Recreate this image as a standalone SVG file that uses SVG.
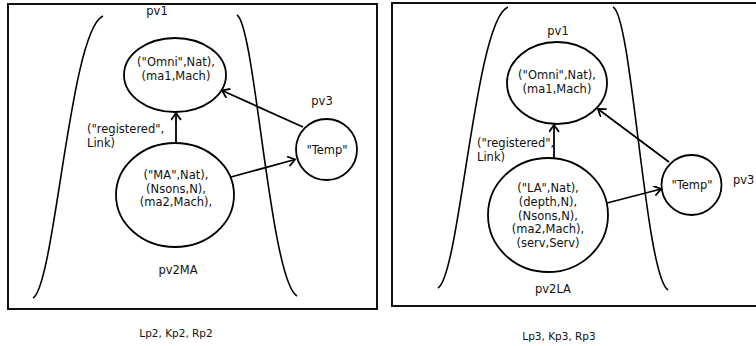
<svg xmlns="http://www.w3.org/2000/svg" width="756" height="346" viewBox="0 0 756 346">
  <style>
    .frame { fill: none; stroke: #111; stroke-width: 2; }
    .curve { fill: none; stroke: #000; stroke-width: 1.6; }
    .node { fill: #fff; stroke: #000; stroke-width: 1.8; }
    .edge { fill: none; stroke: #000; stroke-width: 1.8; marker-end: url(#arr); }
    text { font-family: "DejaVu Sans", "Liberation Sans", sans-serif; font-size: 11.5px; fill: #111; }
    .c { text-anchor: middle; }
    .cap { font-size: 10.5px; }
  </style>
  <defs>
    <marker id="arr" markerWidth="10" markerHeight="12" refX="8" refY="5" orient="auto" markerUnits="userSpaceOnUse">
      <path d="M1,0 L8,5 L1,10" fill="none" stroke="#000" stroke-width="1.8"/>
    </marker>
  </defs>
  <rect width="756" height="346" fill="#fff"/>

  <!-- Left panel -->
  <g id="panel-left">
    <rect class="frame" x="8" y="4" width="369" height="305"/>
    <path class="curve" d="M103,16 C70,30 55,285 33,298"/>
    <path class="curve" d="M237,15 C255,25 270,280 297,296"/>
    <text class="c" x="157" y="15">pv1</text>
    <text class="c" x="322" y="105">pv3</text>
    <text class="c" x="178" y="274">pv2MA</text>
    <text x="87" y="133">("registered",</text>
    <text x="87" y="147">Link)</text>
  </g>
  <g id="L-omni">
    <ellipse class="node" cx="175" cy="75" rx="51" ry="37"/>
    <text class="c" x="176" y="66">("Omni",Nat),</text>
    <text class="c" x="176" y="80">(ma1,Mach)</text>
  </g>
  <g id="L-ma">
    <ellipse class="node" cx="175" cy="195" rx="59" ry="52"/>
    <text class="c" x="176" y="179">("MA",Nat),</text>
    <text class="c" x="176" y="193">(Nsons,N),</text>
    <text class="c" x="176" y="206">(ma2,Mach),</text>
  </g>
  <g id="L-temp">
    <circle class="node" cx="326.5" cy="149.5" r="30.5"/>
    <text class="c" x="327" y="154">"Temp"</text>
  </g>

  <!-- Right panel -->
  <g id="panel-right">
    <rect class="frame" x="392" y="3" width="380" height="303"/>
    <path class="curve" d="M508,7 C475,20 460,275 438,288"/>
    <path class="curve" d="M613,7 C632,15 645,275 668,290"/>
    <text class="c" x="558" y="35">pv1</text>
    <text x="733" y="184">pv3</text>
    <text class="c" x="553" y="293">pv2LA</text>
    <text x="477" y="147">("registered",</text>
    <text x="477" y="161">Link)</text>
  </g>
  <g id="R-omni">
    <ellipse class="node" cx="557" cy="83" rx="50" ry="41"/>
    <text class="c" x="557" y="79">("Omni",Nat),</text>
    <text class="c" x="557" y="93">(ma1,Mach)</text>
  </g>
  <g id="R-la">
    <ellipse class="node" cx="548" cy="215" rx="60" ry="57"/>
    <text class="c" x="548" y="192">("LA",Nat),</text>
    <text class="c" x="548" y="206">(depth,N),</text>
    <text class="c" x="548" y="220">(Nsons,N),</text>
    <text class="c" x="548" y="233">(ma2,Mach),</text>
    <text class="c" x="548" y="247">(serv,Serv)</text>
  </g>
  <g id="R-temp">
    <circle class="node" cx="691.5" cy="185" r="30"/>
    <text class="c" x="692" y="189">"Temp"</text>
  </g>

  <!-- Connectors -->
  <g id="connectors">
    <line class="edge" x1="554" y1="158" x2="554" y2="125"/>
    <line class="edge" x1="176" y1="143" x2="176" y2="113"/>
    <line class="edge" x1="303" y1="127" x2="222" y2="90.5"/>
    <line class="edge" x1="231" y1="177" x2="295" y2="159.5"/>
    <line class="edge" x1="669" y1="162" x2="598" y2="109"/>
    <line class="edge" x1="607" y1="203" x2="661" y2="189"/>
  </g>

  <!-- Captions -->
  <text class="c cap" x="176" y="337">Lp2, Kp2, Rp2</text>
  <text class="c cap" x="559" y="340">Lp3, Kp3, Rp3</text>
</svg>
